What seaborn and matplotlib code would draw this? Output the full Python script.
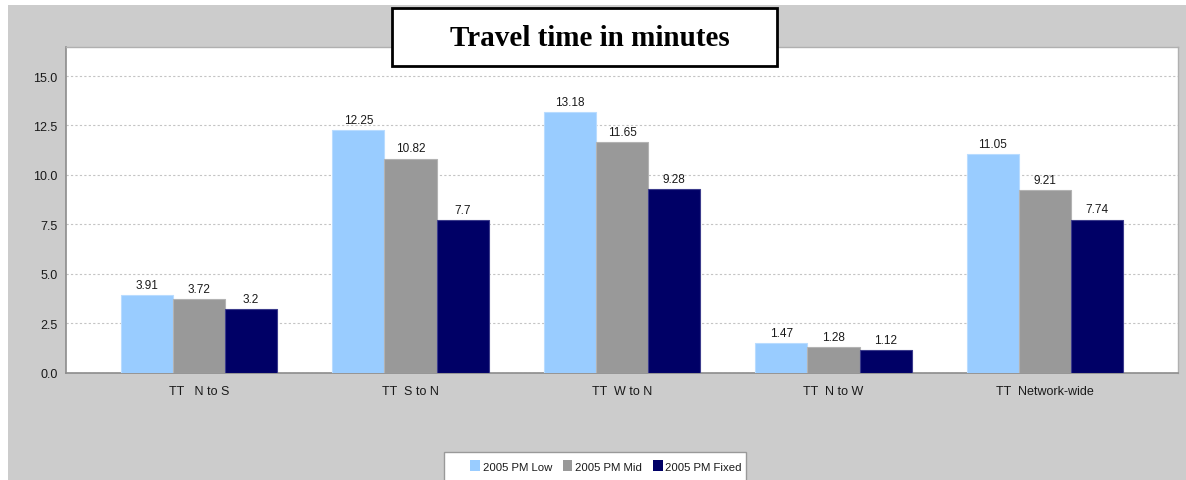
import matplotlib
matplotlib.use("Agg")
import matplotlib.pyplot as plt
from matplotlib.patches import Rectangle, Patch
import seaborn as sns
import pandas as pd

# Travel times (minutes) per route for the three 2005 PM scenarios
categories = ["TT   N to S", "TT  S to N", "TT  W to N", "TT  N to W", "TT  Network-wide"]
scenarios = ["2005 PM Low", "2005 PM Mid", "2005 PM Fixed"]
pm_low = [3.91, 12.25, 13.18, 1.47, 11.05]
pm_mid = [3.72, 10.82, 11.65, 1.28, 9.21]
pm_fixed = [3.2, 7.7, 9.28, 1.12, 7.74]
y_ticks = [0.0, 2.5, 5.0, 7.5, 10.0, 12.5, 15.0]

colors = ["#99ccff", "#999999", "#000066"]
edge_colors = ["#b9dcff", "#b3b3b3", "#3c3c8c"]

df = pd.DataFrame({
    "route": categories * 3,
    "scenario": [s for s in scenarios for _ in categories],
    "minutes": pm_low + pm_mid + pm_fixed,
})

sns.set_style("white")
plt.rcParams["font.family"] = ["Liberation Sans", "DejaVu Sans"]
plt.rcParams["text.color"] = "#1a1a1a"

W, H = 1186, 481
fig = plt.figure(figsize=(W / 100, H / 100), dpi=100, facecolor="white")


def fx(px):
    return px / W


def fy(py):
    return 1 - py / H


# grey panel behind the chart
fig.patches.append(Rectangle((fx(8), 0), 1 - fx(8), fy(6), transform=fig.transFigure,
                             facecolor="#cccccc", edgecolor="none", zorder=-10))

ax = fig.add_axes([fx(66), fy(373.5), fx(1178) - fx(66), fy(48) - fy(373.5)])
ax.set_facecolor("white")

sns.barplot(data=df, x="route", y="minutes", hue="scenario", order=categories,
            hue_order=scenarios, palette=colors, width=0.738, gap=0,
            saturation=1, legend=False, ax=ax, zorder=3)

for cont, ec in zip(ax.containers, edge_colors):
    for bar in cont:
        bar.set_edgecolor(ec)
        bar.set_linewidth(0.8)
    ax.bar_label(cont, fmt="{:g}", padding=3, fontsize=8.5, color="#1a1a1a")

ax.set_xlim(-0.629, 4.629)
ax.set_ylim(0, 16.47)
ax.set_yticks(y_ticks)
ax.set_yticklabels([f"{v:.1f}" for v in y_ticks])
ax.set_xlabel("")
ax.set_ylabel("")

ax.yaxis.grid(True, color="#c4c4c4", linestyle=(0, (2, 2)), linewidth=0.8, zorder=0)
ax.xaxis.grid(False)
ax.set_axisbelow(True)

for side in ["top", "right"]:
    ax.spines[side].set_color("#b0b0b0")
    ax.spines[side].set_linewidth(1)
for side in ["left", "bottom"]:
    ax.spines[side].set_color("#8c8c8c")
    ax.spines[side].set_linewidth(1.2)

ax.tick_params(axis="y", length=3, color="#8c8c8c", pad=3, labelsize=9, labelcolor="#1a1a1a")
ax.tick_params(axis="x", length=0, pad=9, labelsize=9, labelcolor="#1a1a1a")

# title box
fig.patches.append(Rectangle((fx(392), fy(67)), fx(777) - fx(392), fy(9) - fy(67),
                             transform=fig.transFigure, facecolor="white",
                             edgecolor="black", linewidth=2, zorder=10))
fig.text(fx(590), fy(39), "Travel time in minutes", ha="center", va="center",
         family=["Liberation Serif", "DejaVu Serif"], fontweight="bold",
         fontsize=21, color="black", zorder=11)

# legend box
fig.patches.append(Rectangle((fx(444), fy(482)), fx(746) - fx(444), fy(452.7) - fy(482),
                             transform=fig.transFigure, facecolor="white",
                             edgecolor="#999999", linewidth=1, zorder=10))
handles = [Patch(facecolor=c, edgecolor="none", label=s) for c, s in zip(colors, scenarios)]
leg = fig.legend(handles=handles, loc="center", bbox_to_anchor=(fx(606), fy(467)),
                 ncol=3, frameon=False, fontsize=8.2, handlelength=0.85,
                 handleheight=1.05, handletextpad=0.25, columnspacing=0.95,
                 borderpad=0, borderaxespad=0)
leg.set_zorder(12)

fig.savefig("out.png", dpi=100, facecolor="white")
